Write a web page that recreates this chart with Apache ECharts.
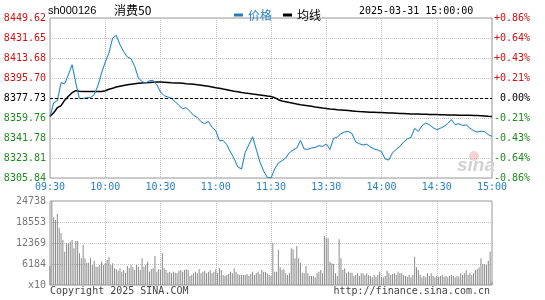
<!DOCTYPE html>
<html>
<head>
<meta charset="utf-8">
<script src="https://cdn.jsdelivr.net/npm/echarts@6/dist/echarts.min.js"></script>
<style>
html,body{margin:0;padding:0;background:#fff}
#chart{width:545px;height:300px}
</style>
</head>
<body>
<div id="chart"></div>
<script>
var preClose = 8377.73;
var priceTicks = ['8305.84','8323.81','8341.78','8359.76','8377.73','8395.70','8413.68','8431.65','8449.62'];
var pctTicks = ['-0.86%','-0.64%','-0.43%','-0.21%','\u00a00.00%','+0.21%','+0.43%','+0.64%','+0.86%'];
var volTicks = ['x10','6184','12369','18553','24738'];
var timeTicks = ['09:30','10:00','10:30','11:00','11:30','13:30','14:00','14:30','15:00'];

// one point every 2 minutes (121 points)
var price = [
8360.93,8373.51,8375.30,8391.48,8390.58,8398.67,8407.65,8391.21,8377.10,8377.37,
8378.00,8378.27,8380.70,8388.78,8400.20,8410.08,8418.17,8431.65,8433.98,8425.63,
8419.34,8414.57,8413.04,8406.13,8395.70,8392.38,8391.21,8393.28,8393.55,8389.68,
8383.12,8379.80,8378.63,8377.37,8374.41,8371.08,8368.11,8369.01,8365.69,8362.09,
8360.30,8356.43,8354.64,8356.70,8351.31,8348.35,8339.36,8339.63,8335.77,8329.21,
8323.18,8315.73,8313.93,8328.85,8335.77,8342.95,8331.54,8320.22,8312.13,8306.38,
8305.84,8313.93,8319.32,8321.39,8323.81,8328.58,8331.00,8332.80,8339.63,8331.90,
8331.54,8332.80,8333.34,8334.87,8334.24,8336.39,8331.54,8341.43,8342.68,8345.65,
8347.18,8347.72,8345.65,8338.19,8336.66,8335.50,8336.21,8333.70,8331.90,8331.00,
8329.48,8322.92,8322.02,8328.58,8331.54,8334.24,8338.19,8340.89,8342.32,8350.41,
8347.72,8352.84,8355.26,8353.74,8351.04,8349.24,8350.59,8352.21,8354.91,8358.23,
8353.74,8354.64,8353.11,8353.47,8350.77,8348.35,8347.18,8347.90,8347.45,8344.75,
8343.22
];
var avgPrice = [
8361.20,8364.52,8369.01,8370.81,8375.75,8379.35,8382.49,8384.29,8383.84,8383.66,
8383.66,8383.66,8383.66,8383.66,8383.66,8384.29,8385.64,8386.54,8387.61,8388.33,
8389.05,8389.68,8390.13,8390.58,8391.03,8391.30,8391.48,8391.75,8391.93,8392.02,
8392.02,8391.93,8391.75,8391.48,8391.30,8391.12,8390.94,8390.58,8390.31,8390.04,
8389.68,8389.23,8388.78,8388.24,8387.61,8386.99,8386.54,8385.82,8385.19,8384.47,
8383.84,8383.39,8382.76,8382.22,8381.77,8381.32,8380.88,8380.43,8379.98,8379.53,
8379.17,8378.00,8376.20,8375.03,8374.41,8373.69,8373.06,8372.34,8371.71,8371.26,
8370.81,8370.27,8369.73,8369.28,8368.74,8368.29,8367.85,8367.58,8367.22,8366.95,
8366.68,8366.41,8366.14,8365.78,8365.51,8365.33,8365.15,8364.97,8364.88,8364.79,
8364.70,8364.52,8364.34,8364.16,8363.98,8363.80,8363.71,8363.62,8363.44,8363.35,
8363.26,8363.17,8363.08,8362.99,8362.90,8362.81,8362.72,8362.63,8362.54,8362.45,
8362.36,8362.27,8362.27,8362.18,8362.18,8362.09,8361.91,8361.73,8361.55,8361.37,
8361.20
];
// per minute volume, 09:30-11:30
var volumeAm = [
5500,24738,19930,19140,20900,16880,15220,13250,9810,12270,
12270,12760,13250,10800,12960,12960,9320,7850,11780,7850,
6580,6580,7850,5890,7170,5400,5400,5890,6870,5890,
6380,7360,8340,5890,6380,4910,4610,4220,4910,3930,
4420,3630,5600,4910,5890,5200,4420,5890,5400,4420,
7850,5400,5890,6870,3930,4610,4910,8540,3930,4610,
4420,9420,4910,4420,3630,3930,3440,3930,3630,3440,
4220,4420,3930,4420,4610,4420,2650,2950,3440,3930,
3440,4610,3440,3930,4220,3440,3930,4420,3440,3930,
4610,3630,4910,4420,2950,2650,2950,3240,3930,3440,
4910,3930,3240,2950,2950,2950,2950,3240,2650,3240,
3930,2950,3440,3930,3240,4420,3930,3930,3440,2950,
2650
];
// 13:01-15:00
var volumePm = [
12470,3930,3930,10310,5200,4420,4610,3440,2950,3630,
10800,10500,7850,11490,7850,6580,3630,3440,5600,3440,
2650,2650,2650,2260,3440,3930,4420,3440,14430,13740,
13740,6870,6380,6180,3440,2650,13450,7850,4420,4910,
3440,3930,3630,3630,2650,2950,3440,2650,3440,3440,
2950,3440,2950,2650,2260,2950,2450,2950,3930,2450,
2260,2650,4220,3440,2950,3240,3440,2950,3930,3440,
3440,2950,2650,2450,2950,2260,2950,8340,5200,4420,
2950,2260,2650,2260,3440,2650,3440,2650,2260,2650,
2450,2650,2950,2450,2650,2260,2650,2950,2650,2260,
2650,2450,3440,2950,3440,4420,2950,3440,2950,3440,
4420,4610,5200,7850,6180,6180,5890,7170,9820,980
];

var mono = 'DejaVu Sans Mono';
var volume = volumeAm.concat(volumePm);
var gridLine = {show: true, lineStyle: {color: '#c4c4c4', type: 'dotted', width: 1}};

var myChart = echarts.init(document.getElementById('chart'));

function upDownColor(v, mid) {
	if (v > mid) return '#d01010';
	if (v < mid) return '#1f8a1f';
	return '#000';
}

var option = {
	animation: false,
	backgroundColor: '#fff',
	legend: {
		left: 229, top: 4,
		icon: 'rect', itemWidth: 9, itemHeight: 3, itemGap: 11,
		textStyle: {fontSize: 12, fontFamily: 'Noto Sans CJK SC'},
		data: [
			{name: '价格', textStyle: {color: '#2a82c8'}},
			{name: '均线', textStyle: {color: '#000'}}
		]
	},
	grid: [
		{left: 50, top: 18, width: 442, height: 160, show: true, borderColor: '#999', borderWidth: 1},
		{left: 50, top: 201, width: 442, height: 84, show: true, borderColor: '#999', borderWidth: 1}
	],
	xAxis: [
		{
			gridIndex: 0, type: 'value', min: 0, max: 240, interval: 30,
			axisLine: {show: false}, axisTick: {show: false}, splitLine: gridLine,
			axisLabel: {
				margin: 4, color: '#2a82c8', fontFamily: mono, fontSize: 10,
				showMinLabel: true, showMaxLabel: true,
				formatter: function (v) { return timeTicks[v / 30]; }
			}
		},
		{
			gridIndex: 1, type: 'value', min: 0, max: 240, interval: 30,
			axisLine: {show: false}, axisTick: {show: false}, splitLine: gridLine,
			axisLabel: {show: false}
		}
	],
	yAxis: [
		// price scale used by the series
		{gridIndex: 0, type: 'value', min: parseFloat(priceTicks[0]), max: parseFloat(priceTicks[8]), show: false, splitLine: {show: false}},
		// left labels
		{
			gridIndex: 0, type: 'value', min: 0, max: 8, interval: 1, position: 'left',
			axisLine: {show: false}, axisTick: {show: false}, splitLine: gridLine,
			axisLabel: {
				margin: 4, fontFamily: mono, fontSize: 10,
				formatter: function (v) { return priceTicks[v]; },
				color: function (v) { return upDownColor(v, 4); }
			}
		},
		// right percent labels
		{
			gridIndex: 0, type: 'value', min: 0, max: 8, interval: 1, position: 'right',
			axisLine: {show: false}, axisTick: {show: false}, splitLine: {show: false},
			axisLabel: {
				margin: 2, fontFamily: mono, fontSize: 10,
				formatter: function (v) { return pctTicks[v]; },
				color: function (v) { return upDownColor(v, 4); }
			}
		},
		{gridIndex: 1, type: 'value', min: 0, max: parseFloat(volTicks[4]), show: false, splitLine: {show: false}},
		{
			gridIndex: 1, type: 'value', min: 0, max: 4, interval: 1, position: 'left',
			axisLine: {show: false}, axisTick: {show: false}, splitLine: gridLine,
			axisLabel: {
				margin: 4, fontFamily: mono, fontSize: 10, color: '#777',
				formatter: function (v) { return volTicks[v]; }
			}
		}
	],
	series: [
		{
			name: '价格', type: 'line', xAxisIndex: 0, yAxisIndex: 0,
			showSymbol: false, z: 4, color: '#2a7db6',
			lineStyle: {color: '#2a7db6', width: 1, shadowColor: 'rgba(110,200,245,0.45)', shadowBlur: 2},
			data: price.map(function (p, i) { return [i * 2, p]; }),
			markLine: {
				silent: true, symbol: 'none', label: {show: false},
				lineStyle: {color: '#000', type: [3, 2], width: 1},
				data: [{yAxis: preClose}]
			}
		},
		{
			name: '均线', type: 'line', xAxisIndex: 0, yAxisIndex: 0,
			showSymbol: false, z: 3, color: '#000',
			lineStyle: {color: '#000', width: 1.5},
			data: avgPrice.map(function (p, i) { return [i * 2, p]; })
		},
		{
			name: '成交量', type: 'bar', xAxisIndex: 1, yAxisIndex: 3,
			barWidth: 1, itemStyle: {color: '#8a8a8a'},
			data: volume.map(function (v, m) { return [m, v]; })
		}
	],
	graphic: [
		{type: 'text', left: 48, top: 5, style: {text: 'sh000126', font: '11px "Liberation Sans"', fill: '#000'}},
		{type: 'text', left: 114, top: 4, style: {text: '消费50', font: '12px "Noto Sans CJK SC"', fill: '#000'}},
		{type: 'text', left: 359, top: 6, style: {text: '2025-03-31 15:00:00', font: '10px "DejaVu Sans Mono"', fill: '#000'}},
		{type: 'text', left: 50, top: 286, style: {text: 'Copyright 2025 SINA.COM', font: '10px "DejaVu Sans Mono"', fill: '#444'}},
		{type: 'text', right: 55, top: 286, style: {text: 'http://finance.sina.com.cn', font: '10px "DejaVu Sans Mono"', fill: '#444'}},
		{type: 'circle', shape: {cx: 474, cy: 156, r: 5}, style: {fill: 'rgba(225,110,110,0.3)'}, z: 1},
		{type: 'text', left: 457, top: 156, style: {text: 'sina', font: 'italic bold 19px "Liberation Sans"', fill: '#d2d2d2'}, z: 1}
	]
};

myChart.setOption(option);
</script>
</body>
</html>
